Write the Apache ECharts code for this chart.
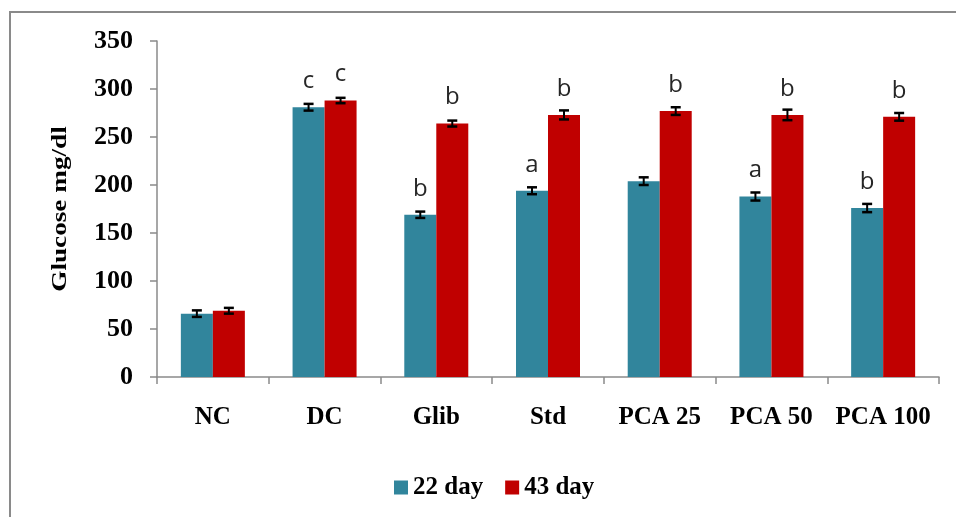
<!DOCTYPE html>
<html>
<head>
<meta charset="utf-8">
<script src="https://cdn.jsdelivr.net/npm/echarts@6/dist/echarts.min.js"></script>
<style>html,body{margin:0;padding:0;background:#fff}#c{width:956px;height:517px}</style>
</head>
<body>
<div id="c"></div>
<script>
var categories = ['NC', 'DC', 'Glib', 'Std', 'PCA 25', 'PCA 50', 'PCA 100'];
var day22 = [66, 281, 169, 194, 204, 188, 176];
var day43 = [69, 288, 264, 273, 277, 273, 271];
var err22 = [3.4, 3.5, 3.3, 3.6, 4.0, 4.2, 4.3];
var err43 = [3.0, 2.8, 3.1, 4.7, 4.0, 5.5, 4.0];
var letters22 = ['', 'c', 'b', 'a', '', 'a', 'b'];
var letters43 = ['', 'c', 'b', 'b', 'b', 'b', 'b'];
var yMin = 0, yMax = 350, yStep = 50;

var BAR_W = 32;
var serif = '"Liberation Serif", "Times New Roman", serif';

function errData(vals, errs) {
  return vals.map(function (v, i) { return [i, v, errs[i]]; });
}
function errRender(offset) {
  return function (params, api) {
    var i = api.value(0), m = api.value(1), e = api.value(2);
    var top = api.coord([i, m + e]);
    var bot = api.coord([i, m - e]);
    var x = top[0] + offset;
    var cap = 5;
    var st = { stroke: '#000', lineWidth: 2.5 };
    return {
      type: 'group',
      children: [
        { type: 'line', shape: { x1: x, y1: top[1], x2: x, y2: bot[1] }, style: { stroke: '#000', lineWidth: 2 } },
        { type: 'line', shape: { x1: x - cap, y1: top[1], x2: x + cap, y2: top[1] }, style: st },
        { type: 'line', shape: { x1: x - cap, y1: bot[1], x2: x + cap, y2: bot[1] }, style: st }
      ]
    };
  };
}
function letterLabel(arr) {
  return {
    show: true, position: 'top', distance: 14,
    formatter: function (p) { return arr[p.dataIndex]; },
    fontFamily: '"Open Sans", "Noto Sans", sans-serif', fontSize: 24, color: '#262626'
  };
}

var chart = echarts.init(document.getElementById('c'), null, { renderer: 'canvas' });
chart.setOption({
  animation: false,
  backgroundColor: '#fff',
  graphic: [
    { type: 'rect', shape: { x: 10, y: 12, width: 1200, height: 1200 },
      style: { fill: 'none', stroke: '#8a8a8a', lineWidth: 2 }, silent: true, z: -10 },
    { type: 'text', x: 61, y: 209, rotation: Math.PI / 2, scaleX: 1.36,
      style: { text: 'Glucose mg/dl', font: 'bold 20px ' + serif, fill: '#000',
               textAlign: 'center', textVerticalAlign: 'middle' } }
  ],
  grid: { left: 157, right: 17, top: 41, bottom: 140, containLabel: false },
  legend: {
    data: ['22 day', '43 day'],
    left: 389, top: 470,
    itemWidth: 14, itemHeight: 14, itemGap: 22,
    icon: 'rect',
    textStyle: { fontFamily: serif, fontWeight: 'bold', fontSize: 25, color: '#000' }
  },
  xAxis: {
    type: 'category', data: categories,
    axisLine: { lineStyle: { color: '#8a8a8a', width: 1.5 } },
    axisTick: { show: true, length: 7, lineStyle: { color: '#8a8a8a', width: 1.5 } },
    axisLabel: { interval: 0, margin: 28, fontFamily: serif, fontWeight: 'bold', fontSize: 25, color: '#000' },
    splitLine: { show: false }
  },
  yAxis: {
    type: 'value', min: yMin, max: yMax, interval: yStep,
    axisLine: { show: true, lineStyle: { color: '#8a8a8a', width: 1.5 } },
    axisTick: { show: true, length: 7, lineStyle: { color: '#8a8a8a', width: 1.5 } },
    axisLabel: { margin: 24, fontFamily: serif, fontWeight: 'bold', fontSize: 26, color: '#000' },
    splitLine: { show: false }
  },
  series: [
    { name: '22 day', type: 'bar', data: day22, barWidth: BAR_W, barGap: '0%',
      itemStyle: { color: '#31859C' }, label: letterLabel(letters22) },
    { name: '43 day', type: 'bar', data: day43, barWidth: BAR_W, barGap: '0%',
      itemStyle: { color: '#C00000' }, label: letterLabel(letters43) },
    { type: 'custom', data: errData(day22, err22), renderItem: errRender(-BAR_W / 2),
      encode: { x: 0, y: 1 }, z: 5, silent: true },
    { type: 'custom', data: errData(day43, err43), renderItem: errRender(BAR_W / 2),
      encode: { x: 0, y: 1 }, z: 5, silent: true }
  ]
});
</script>
</body>
</html>
